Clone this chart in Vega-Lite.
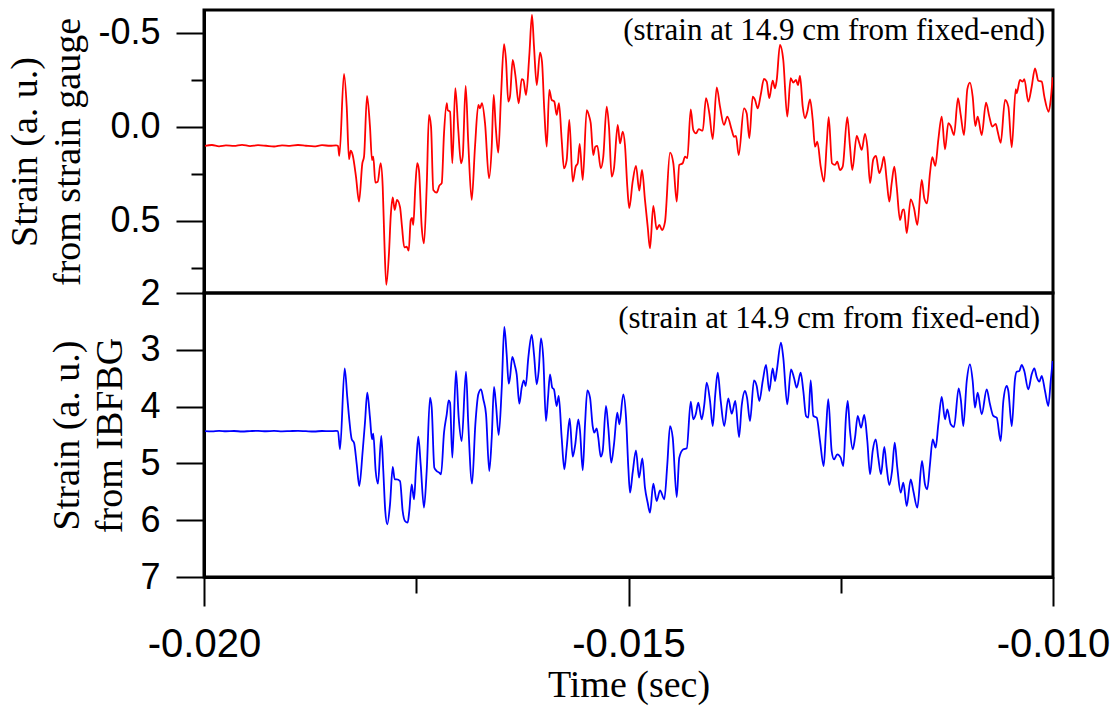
{
"$schema":"https://vega.github.io/schema/vega-lite/v6.json",
"background":"white",
"padding":{"left":5,"top":8,"right":0,"bottom":0},
"spacing":0,
"bounds":"flush",
"datasets":{
"gauge":[
{"t":-0.019988,"v":0.100},{"t":-0.019906,"v":0.096},{"t":-0.019823,"v":0.103},{"t":-0.019741,"v":0.098},{"t":-0.019647,"v":0.101},{"t":-0.019552,"v":0.095},{"t":-0.019458,"v":0.102},{"t":-0.019364,"v":0.097},{"t":-0.019270,"v":0.100},{"t":-0.019175,"v":0.104},{"t":-0.019081,"v":0.098},{"t":-0.018987,"v":0.101},{"t":-0.018893,"v":0.096},{"t":-0.018799,"v":0.100},{"t":-0.018704,"v":0.103},{"t":-0.018610,"v":0.097},{"t":-0.018516,"v":0.100},{"t":-0.018445,"v":0.098},{"t":-0.018422,"v":0.100},
{"t":-0.018406,"v":0.154},{"t":-0.018351,"v":-0.282},{"t":-0.018319,"v":-0.108},{"t":-0.018292,"v":0.172},{"t":-0.018272,"v":0.126},{"t":-0.018249,"v":0.149},{"t":-0.018210,"v":0.264},{"t":-0.018174,"v":0.397},{"t":-0.018135,"v":0.193},{"t":-0.018115,"v":0.158},{"t":-0.018080,"v":-0.165},{"t":-0.018045,"v":-0.002},{"t":-0.018021,"v":0.176},{"t":-0.018006,"v":0.158},{"t":-0.017982,"v":0.296},{"t":-0.017954,"v":0.291},{"t":-0.017919,"v":0.193},{"t":-0.017895,"v":0.318},{"t":-0.017876,"v":0.601},{"t":-0.017853,"v":0.840},{"t":-0.017821,"v":0.670},{"t":-0.017801,"v":0.477},{"t":-0.017777,"v":0.374},{"t":-0.017754,"v":0.441},{"t":-0.017727,"v":0.388},{"t":-0.017691,"v":0.426},{"t":-0.017668,"v":0.530},{"t":-0.017641,"v":0.640},{"t":-0.017612,"v":0.637},{"t":-0.017589,"v":0.658},{"t":-0.017565,"v":0.495},{"t":-0.017550,"v":0.484},{"t":-0.017535,"v":0.521},{"t":-0.017511,"v":0.318},{"t":-0.017488,"v":0.193},{"t":-0.017468,"v":0.229},{"t":-0.017436,"v":0.530},{"t":-0.017409,"v":0.619},{"t":-0.017377,"v":0.318},{"t":-0.017350,"v":-0.064},{"t":-0.017326,"v":-0.002},{"t":-0.017299,"v":0.335},{"t":-0.017259,"v":0.349},{"t":-0.017228,"v":0.312},{"t":-0.017200,"v":0.299},{"t":-0.017173,"v":0.034},{"t":-0.017141,"v":-0.126},{"t":-0.017130,"v":-0.090},{"t":-0.017102,"v":-0.081},{"t":-0.017075,"v":0.193},{"t":-0.017040,"v":-0.206},{"t":-0.017005,"v":0.016},{"t":-0.016973,"v":0.193},{"t":-0.016953,"v":0.158},{"t":-0.016918,"v":-0.218},{"t":-0.016887,"v":0.087},{"t":-0.016847,"v":0.388},{"t":-0.016808,"v":0.105},{"t":-0.016769,"v":-0.117},{"t":-0.016749,"v":-0.099},{"t":-0.016726,"v":-0.126},{"t":-0.016690,"v":-0.020},{"t":-0.016643,"v":0.273},{"t":-0.016611,"v":0.105},{"t":-0.016588,"v":-0.170},{"t":-0.016564,"v":-0.002},{"t":-0.016534,"v":0.137},{"t":-0.016502,"v":-0.161},{"t":-0.016466,"v":-0.440},{"t":-0.016443,"v":-0.356},{"t":-0.016416,"v":-0.135},{"t":-0.016396,"v":-0.161},{"t":-0.016364,"v":-0.356},{"t":-0.016333,"v":-0.277},{"t":-0.016293,"v":-0.126},{"t":-0.016258,"v":-0.254},{"t":-0.016239,"v":-0.250},{"t":-0.016207,"v":-0.170},{"t":-0.016168,"v":-0.383},{"t":-0.016137,"v":-0.596},{"t":-0.016113,"v":-0.427},{"t":-0.016081,"v":-0.223},{"t":-0.016042,"v":-0.395},{"t":-0.016019,"v":-0.347},{"t":-0.015992,"v":-0.090},{"t":-0.015963,"v":0.105},{"t":-0.015933,"v":-0.197},{"t":-0.015905,"v":-0.144},{"t":-0.015874,"v":-0.135},{"t":-0.015846,"v":-0.064},{"t":-0.015819,"v":-0.126},{"t":-0.015787,"v":0.069},{"t":-0.015760,"v":0.220},{"t":-0.015728,"v":0.176},{"t":-0.015697,"v":-0.037},{"t":-0.015657,"v":0.291},{"t":-0.015622,"v":0.211},{"t":-0.015598,"v":0.193},{"t":-0.015575,"v":0.090},{"t":-0.015539,"v":0.282},{"t":-0.015492,"v":-0.090},{"t":-0.015462,"v":-0.055},{"t":-0.015445,"v":-0.020},{"t":-0.015415,"v":0.149},{"t":-0.015391,"v":0.105},{"t":-0.015367,"v":0.101},{"t":-0.015327,"v":0.220},{"t":-0.015297,"v":0.158},{"t":-0.015257,"v":-0.108},{"t":-0.015230,"v":-0.002},{"t":-0.015198,"v":0.264},{"t":-0.015171,"v":0.220},{"t":-0.015127,"v":-0.011},{"t":-0.015100,"v":0.087},{"t":-0.015068,"v":0.025},{"t":-0.015041,"v":0.100},{"t":-0.015014,"v":0.318},{"t":-0.014991,"v":0.432},{"t":-0.014951,"v":0.291},{"t":-0.014912,"v":0.207},{"t":-0.014873,"v":0.339},{"t":-0.014841,"v":0.229},{"t":-0.014806,"v":0.388},{"t":-0.014774,"v":0.530},{"t":-0.014747,"v":0.645},{"t":-0.014708,"v":0.420},{"t":-0.014668,"v":0.544},{"t":-0.014637,"v":0.521},{"t":-0.014605,"v":0.548},{"t":-0.014570,"v":0.504},{"t":-0.014511,"v":0.137},{"t":-0.014472,"v":0.193},{"t":-0.014432,"v":0.397},{"t":-0.014402,"v":0.202},{"t":-0.014362,"v":0.193},{"t":-0.014334,"v":0.158},{"t":-0.014307,"v":0.166},{"t":-0.014267,"v":-0.094},{"t":-0.014237,"v":0.016},{"t":-0.014205,"v":0.034},{"t":-0.014173,"v":0.012},{"t":-0.014126,"v":0.020},{"t":-0.014087,"v":-0.153},{"t":-0.014048,"v":-0.073},{"t":-0.014008,"v":0.065},{"t":-0.013961,"v":-0.211},{"t":-0.013922,"v":-0.108},{"t":-0.013875,"v":-0.011},{"t":-0.013836,"v":-0.055},{"t":-0.013784,"v":0.016},{"t":-0.013757,"v":0.052},{"t":-0.013734,"v":0.048},{"t":-0.013702,"v":0.149},{"t":-0.013640,"v":-0.099},{"t":-0.013608,"v":-0.073},{"t":-0.013577,"v":0.060},{"t":-0.013537,"v":-0.161},{"t":-0.013510,"v":-0.144},{"t":-0.013478,"v":-0.099},{"t":-0.013443,"v":-0.170},{"t":-0.013404,"v":-0.255},{"t":-0.013372,"v":-0.241},{"t":-0.013342,"v":-0.153},{"t":-0.013302,"v":-0.246},{"t":-0.013274,"v":-0.206},{"t":-0.013254,"v":-0.250},{"t":-0.013216,"v":-0.436},{"t":-0.013177,"v":-0.356},{"t":-0.013130,"v":-0.055},{"t":-0.013090,"v":-0.259},{"t":-0.013059,"v":-0.236},{"t":-0.013027,"v":-0.250},{"t":-0.013004,"v":-0.223},{"t":-0.012980,"v":-0.271},{"t":-0.012948,"v":-0.108},{"t":-0.012921,"v":-0.046},{"t":-0.012894,"v":-0.081},{"t":-0.012862,"v":-0.147},{"t":-0.012830,"v":-0.037},{"t":-0.012803,"v":0.105},{"t":-0.012776,"v":0.078},{"t":-0.012736,"v":0.211},{"t":-0.012697,"v":0.291},{"t":-0.012665,"v":0.087},{"t":-0.012642,"v":-0.052},{"t":-0.012603,"v":0.193},{"t":-0.012568,"v":0.202},{"t":-0.012541,"v":0.185},{"t":-0.012509,"v":0.229},{"t":-0.012477,"v":0.211},{"t":-0.012423,"v":-0.052},{"t":-0.012391,"v":0.105},{"t":-0.012364,"v":0.229},{"t":-0.012312,"v":0.048},{"t":-0.012281,"v":0.087},{"t":-0.012253,"v":0.122},{"t":-0.012214,"v":0.037},{"t":-0.012187,"v":0.105},{"t":-0.012155,"v":0.299},{"t":-0.012117,"v":0.172},{"t":-0.012085,"v":0.154},{"t":-0.012046,"v":0.246},{"t":-0.012018,"v":0.211},{"t":-0.011991,"v":0.158},{"t":-0.011959,"v":0.282},{"t":-0.011928,"v":0.397},{"t":-0.011900,"v":0.299},{"t":-0.011869,"v":0.211},{"t":-0.011841,"v":0.318},{"t":-0.011802,"v":0.495},{"t":-0.011770,"v":0.441},{"t":-0.011755,"v":0.438},{"t":-0.011723,"v":0.565},{"t":-0.011676,"v":0.385},{"t":-0.011637,"v":0.432},{"t":-0.011598,"v":0.521},{"t":-0.011546,"v":0.282},{"t":-0.011516,"v":0.379},{"t":-0.011484,"v":0.406},{"t":-0.011449,"v":0.246},{"t":-0.011422,"v":0.161},{"t":-0.011386,"v":0.207},{"t":-0.011351,"v":0.069},{"t":-0.011311,"v":-0.055},{"t":-0.011272,"v":0.119},{"t":-0.011233,"v":-0.020},{"t":-0.011205,"v":-0.005},{"t":-0.011166,"v":0.043},{"t":-0.011119,"v":-0.153},{"t":-0.011087,"v":-0.064},{"t":-0.011048,"v":0.043},{"t":-0.011009,"v":-0.201},{"t":-0.010978,"v":-0.236},{"t":-0.010946,"v":-0.161},{"t":-0.010915,"v":-0.005},{"t":-0.010887,"v":-0.055},{"t":-0.010840,"v":0.043},{"t":-0.010789,"v":-0.129},{"t":-0.010750,"v":-0.055},{"t":-0.010715,"v":-0.002},{"t":-0.010675,"v":-0.016},{"t":-0.010651,"v":0.025},{"t":-0.010616,"v":0.084},{"t":-0.010565,"v":-0.144},{"t":-0.010526,"v":-0.108},{"t":-0.010486,"v":0.108},{"t":-0.010439,"v":-0.201},{"t":-0.010428,"v":-0.179},{"t":-0.010389,"v":-0.250},{"t":-0.010357,"v":-0.241},{"t":-0.010338,"v":-0.254},{"t":-0.010291,"v":-0.135},{"t":-0.010251,"v":-0.214},{"t":-0.010212,"v":-0.312},{"t":-0.010173,"v":-0.246},{"t":-0.010133,"v":-0.241},{"t":-0.010102,"v":-0.161},{"t":-0.010051,"v":-0.081},{"t":-0.010027,"v":-0.144},{"t":-0.010004,"v":-0.264}
],
"fbg":[
{"t":-0.019988,"v":4.432},{"t":-0.019906,"v":4.437},{"t":-0.019823,"v":4.428},{"t":-0.019741,"v":4.434},{"t":-0.019647,"v":4.430},{"t":-0.019552,"v":4.438},{"t":-0.019458,"v":4.431},{"t":-0.019364,"v":4.426},{"t":-0.019270,"v":4.434},{"t":-0.019175,"v":4.429},{"t":-0.019081,"v":4.436},{"t":-0.018987,"v":4.431},{"t":-0.018893,"v":4.427},{"t":-0.018799,"v":4.433},{"t":-0.018704,"v":4.438},{"t":-0.018610,"v":4.430},{"t":-0.018516,"v":4.432},{"t":-0.018445,"v":4.429},{"t":-0.018422,"v":4.431},
{"t":-0.018398,"v":4.752},{"t":-0.018343,"v":3.326},{"t":-0.018312,"v":3.843},{"t":-0.018289,"v":4.224},{"t":-0.018260,"v":4.576},{"t":-0.018233,"v":4.635},{"t":-0.018201,"v":5.016},{"t":-0.018171,"v":5.398},{"t":-0.018131,"v":4.782},{"t":-0.018104,"v":4.283},{"t":-0.018077,"v":3.755},{"t":-0.018045,"v":4.195},{"t":-0.018021,"v":4.576},{"t":-0.018006,"v":4.477},{"t":-0.017978,"v":5.134},{"t":-0.017951,"v":5.357},{"t":-0.017912,"v":4.518},{"t":-0.017888,"v":5.134},{"t":-0.017865,"v":5.838},{"t":-0.017841,"v":6.072},{"t":-0.017809,"v":5.720},{"t":-0.017777,"v":5.063},{"t":-0.017754,"v":5.280},{"t":-0.017730,"v":5.280},{"t":-0.017691,"v":5.310},{"t":-0.017660,"v":5.838},{"t":-0.017633,"v":6.014},{"t":-0.017601,"v":6.044},{"t":-0.017582,"v":5.838},{"t":-0.017554,"v":5.368},{"t":-0.017526,"v":5.632},{"t":-0.017503,"v":5.076},{"t":-0.017476,"v":4.530},{"t":-0.017448,"v":5.016},{"t":-0.017409,"v":5.780},{"t":-0.017377,"v":5.134},{"t":-0.017338,"v":3.843},{"t":-0.017318,"v":4.019},{"t":-0.017287,"v":5.076},{"t":-0.017259,"v":5.134},{"t":-0.017228,"v":5.164},{"t":-0.017208,"v":5.192},{"t":-0.017173,"v":4.459},{"t":-0.017141,"v":4.136},{"t":-0.017118,"v":3.889},{"t":-0.017102,"v":3.931},{"t":-0.017075,"v":4.900},{"t":-0.017032,"v":3.373},{"t":-0.017000,"v":4.195},{"t":-0.016965,"v":4.606},{"t":-0.016914,"v":3.386},{"t":-0.016887,"v":4.312},{"t":-0.016843,"v":5.357},{"t":-0.016804,"v":4.312},{"t":-0.016769,"v":3.784},{"t":-0.016737,"v":3.696},{"t":-0.016710,"v":3.871},{"t":-0.016678,"v":4.136},{"t":-0.016640,"v":5.134},{"t":-0.016611,"v":4.548},{"t":-0.016584,"v":3.655},{"t":-0.016561,"v":3.960},{"t":-0.016529,"v":4.500},{"t":-0.016493,"v":3.667},{"t":-0.016463,"v":2.599},{"t":-0.016435,"v":3.079},{"t":-0.016411,"v":3.597},{"t":-0.016396,"v":3.491},{"t":-0.016369,"v":3.127},{"t":-0.016337,"v":3.285},{"t":-0.016317,"v":3.431},{"t":-0.016286,"v":3.949},{"t":-0.016258,"v":3.667},{"t":-0.016234,"v":3.537},{"t":-0.016211,"v":3.637},{"t":-0.016180,"v":3.139},{"t":-0.016140,"v":2.739},{"t":-0.016113,"v":3.079},{"t":-0.016081,"v":3.607},{"t":-0.016058,"v":3.373},{"t":-0.016031,"v":2.798},{"t":-0.016004,"v":3.139},{"t":-0.015972,"v":4.254},{"t":-0.015948,"v":3.843},{"t":-0.015925,"v":3.431},{"t":-0.015898,"v":3.667},{"t":-0.015878,"v":3.696},{"t":-0.015846,"v":3.989},{"t":-0.015822,"v":3.813},{"t":-0.015787,"v":4.548},{"t":-0.015756,"v":5.104},{"t":-0.015728,"v":4.724},{"t":-0.015693,"v":4.213},{"t":-0.015657,"v":4.882},{"t":-0.015627,"v":4.664},{"t":-0.015591,"v":4.224},{"t":-0.015571,"v":4.430},{"t":-0.015539,"v":5.122},{"t":-0.015512,"v":4.312},{"t":-0.015485,"v":3.713},{"t":-0.015453,"v":3.843},{"t":-0.015422,"v":4.342},{"t":-0.015403,"v":4.459},{"t":-0.015375,"v":4.382},{"t":-0.015356,"v":4.548},{"t":-0.015327,"v":4.882},{"t":-0.015304,"v":4.782},{"t":-0.015265,"v":3.989},{"t":-0.015238,"v":4.371},{"t":-0.015203,"v":4.988},{"t":-0.015171,"v":4.664},{"t":-0.015132,"v":4.107},{"t":-0.015108,"v":4.312},{"t":-0.015061,"v":3.784},{"t":-0.015029,"v":4.195},{"t":-0.015002,"v":5.076},{"t":-0.014982,"v":5.516},{"t":-0.014951,"v":5.164},{"t":-0.014912,"v":4.770},{"t":-0.014876,"v":5.252},{"t":-0.014837,"v":4.912},{"t":-0.014806,"v":5.428},{"t":-0.014774,"v":5.692},{"t":-0.014747,"v":5.868},{"t":-0.014708,"v":5.357},{"t":-0.014668,"v":5.662},{"t":-0.014629,"v":5.474},{"t":-0.014578,"v":5.632},{"t":-0.014543,"v":5.016},{"t":-0.014511,"v":4.342},{"t":-0.014479,"v":4.548},{"t":-0.014432,"v":5.592},{"t":-0.014402,"v":4.900},{"t":-0.014354,"v":4.752},{"t":-0.014314,"v":4.734},{"t":-0.014267,"v":3.913},{"t":-0.014237,"v":4.224},{"t":-0.014208,"v":4.136},{"t":-0.014178,"v":3.931},{"t":-0.014138,"v":4.224},{"t":-0.014107,"v":3.960},{"t":-0.014079,"v":3.579},{"t":-0.014040,"v":3.901},{"t":-0.014008,"v":4.342},{"t":-0.013978,"v":3.784},{"t":-0.013949,"v":3.403},{"t":-0.013914,"v":3.901},{"t":-0.013872,"v":4.342},{"t":-0.013825,"v":3.854},{"t":-0.013784,"v":4.125},{"t":-0.013742,"v":3.901},{"t":-0.013698,"v":4.535},{"t":-0.013667,"v":3.989},{"t":-0.013628,"v":3.725},{"t":-0.013604,"v":3.843},{"t":-0.013569,"v":4.254},{"t":-0.013522,"v":3.537},{"t":-0.013490,"v":3.637},{"t":-0.013459,"v":3.901},{"t":-0.013419,"v":3.549},{"t":-0.013380,"v":3.268},{"t":-0.013342,"v":3.725},{"t":-0.013302,"v":3.326},{"t":-0.013274,"v":3.549},{"t":-0.013254,"v":3.373},{"t":-0.013204,"v":2.875},{"t":-0.013177,"v":3.139},{"t":-0.013130,"v":3.960},{"t":-0.013086,"v":3.343},{"t":-0.013051,"v":3.491},{"t":-0.013019,"v":3.667},{"t":-0.012972,"v":3.403},{"t":-0.012941,"v":3.725},{"t":-0.012909,"v":4.165},{"t":-0.012882,"v":4.195},{"t":-0.012854,"v":3.537},{"t":-0.012823,"v":4.165},{"t":-0.012783,"v":4.195},{"t":-0.012744,"v":4.606},{"t":-0.012701,"v":5.046},{"t":-0.012674,"v":4.430},{"t":-0.012647,"v":3.871},{"t":-0.012607,"v":4.782},{"t":-0.012579,"v":4.928},{"t":-0.012541,"v":4.840},{"t":-0.012501,"v":4.900},{"t":-0.012470,"v":5.046},{"t":-0.012438,"v":4.165},{"t":-0.012418,"v":3.901},{"t":-0.012391,"v":4.430},{"t":-0.012359,"v":4.752},{"t":-0.012332,"v":4.548},{"t":-0.012300,"v":4.165},{"t":-0.012261,"v":4.371},{"t":-0.012223,"v":4.148},{"t":-0.012187,"v":4.606},{"t":-0.012155,"v":5.192},{"t":-0.012124,"v":4.782},{"t":-0.012088,"v":4.576},{"t":-0.012058,"v":4.900},{"t":-0.012026,"v":5.192},{"t":-0.011987,"v":4.711},{"t":-0.011959,"v":5.076},{"t":-0.011928,"v":5.380},{"t":-0.011896,"v":5.134},{"t":-0.011864,"v":4.635},{"t":-0.011834,"v":5.076},{"t":-0.011794,"v":5.516},{"t":-0.011763,"v":5.340},{"t":-0.011723,"v":5.750},{"t":-0.011676,"v":5.280},{"t":-0.011645,"v":5.486},{"t":-0.011598,"v":5.780},{"t":-0.011543,"v":4.958},{"t":-0.011508,"v":5.368},{"t":-0.011481,"v":5.456},{"t":-0.011449,"v":5.016},{"t":-0.011417,"v":4.576},{"t":-0.011382,"v":4.724},{"t":-0.011351,"v":4.312},{"t":-0.011311,"v":3.831},{"t":-0.011272,"v":4.224},{"t":-0.011245,"v":4.048},{"t":-0.011205,"v":4.312},{"t":-0.011166,"v":4.359},{"t":-0.011111,"v":3.678},{"t":-0.011084,"v":3.901},{"t":-0.011057,"v":4.342},{"t":-0.011016,"v":3.549},{"t":-0.010978,"v":3.255},{"t":-0.010946,"v":3.549},{"t":-0.010919,"v":4.019},{"t":-0.010887,"v":3.755},{"t":-0.010840,"v":4.136},{"t":-0.010781,"v":3.696},{"t":-0.010742,"v":3.960},{"t":-0.010703,"v":4.165},{"t":-0.010663,"v":4.195},{"t":-0.010616,"v":4.606},{"t":-0.010585,"v":3.901},{"t":-0.010545,"v":3.637},{"t":-0.010526,"v":3.725},{"t":-0.010486,"v":4.342},{"t":-0.010448,"v":3.520},{"t":-0.010428,"v":3.386},{"t":-0.010397,"v":3.373},{"t":-0.010369,"v":3.268},{"t":-0.010338,"v":3.373},{"t":-0.010291,"v":3.696},{"t":-0.010251,"v":3.431},{"t":-0.010220,"v":3.326},{"t":-0.010192,"v":3.479},{"t":-0.010161,"v":3.562},{"t":-0.010133,"v":3.461},{"t":-0.010094,"v":3.725},{"t":-0.010055,"v":3.989},{"t":-0.010027,"v":3.549},{"t":-0.010004,"v":3.197}
]
},
"vconcat":[
{
"width":849,"height":283,
"layer":[
{"data":{"name":"gauge"},
"mark":{"type":"line","color":"#ff0000","strokeWidth":1.8,"interpolate":"monotone","clip":true},
"encoding":{
"x":{"field":"t","type":"quantitative","scale":{"domain":[-0.02,-0.01],"nice":false,"zero":false},"axis":null},
"y":{"field":"v","type":"quantitative","scale":{"domain":[-0.622,0.883],"reverse":true,"nice":false,"zero":false},
"axis":{"title":["Strain (a. u.)","from strain gauge"],"values":[-0.5,-0.25,0,0.25,0.5,0.75],
"labelExpr":"abs(datum.value*2-round(datum.value*2))<0.001 ? ((datum.value<0?'-':'')+format(abs(datum.value),'.1f')) : ''",
"tickSize":{"condition":{"test":"abs(datum.value*2-round(datum.value*2))<0.001","value":28},"value":13},
"labelPadding":16,"titlePadding":10,"labelFlush":false,"labelOverlap":false}}
}},
{"data":{"values":[{}]},
"mark":{"type":"text","align":"right","baseline":"middle","font":"Liberation Serif","fontSize":31,"color":"black"},
"encoding":{"x":{"datum":-0.010094,"type":"quantitative"},"y":{"datum":-0.511,"type":"quantitative"},"text":{"value":"(strain at 14.9 cm from fixed-end)"}}}
]
},
{
"width":849,"height":284,
"layer":[
{"data":{"name":"fbg"},
"mark":{"type":"line","color":"#0000ff","strokeWidth":1.8,"interpolate":"monotone","clip":true},
"encoding":{
"x":{"field":"t","type":"quantitative","scale":{"domain":[-0.02,-0.01],"nice":false,"zero":false},
"axis":{"title":"Time (sec)","values":[-0.02,-0.0175,-0.015,-0.0125,-0.01],
"labelExpr":"abs(datum.value*200-round(datum.value*200))<0.001 ? ((datum.value<0?'-':'')+format(abs(datum.value),'.3f')) : ''",
"tickSize":{"condition":{"test":"abs(datum.value*200-round(datum.value*200))<0.001","value":29},"value":16},
"labelFontSize":40,"labelPadding":18,"titlePadding":2,"titleFontSize":38,"labelFlush":false,"labelOverlap":false}},
"y":{"field":"v","type":"quantitative","scale":{"domain":[2,7],"reverse":true,"nice":false,"zero":false},
"axis":{"title":["Strain (a. u.)","from IBFBG"],"values":[2,2.5,3,3.5,4,4.5,5,5.5,6,6.5,7],
"labelExpr":"datum.value==round(datum.value) ? format(datum.value,'d') : ''",
"tickSize":{"condition":{"test":"datum.value==round(datum.value)","value":28},"value":13},
"labelPadding":16,"titlePadding":10,"labelFlush":false,"labelOverlap":false}}
}},
{"data":{"values":[{}]},
"mark":{"type":"text","align":"right","baseline":"middle","font":"Liberation Serif","fontSize":31,"color":"black"},
"encoding":{"x":{"datum":-0.010153,"type":"quantitative"},"y":{"datum":2.46,"type":"quantitative"},"text":{"value":"(strain at 14.9 cm from fixed-end)"}}}
]
}
],
"config":{
"view":{"stroke":"black","strokeWidth":3},
"axis":{"domainColor":"black","domainWidth":3,"tickColor":"black","tickWidth":2,"grid":false,
"labelFont":"Liberation Sans","labelFontSize":36,"labelColor":"black",
"titleFont":"Liberation Serif","titleFontSize":38,"titleFontWeight":"normal","titleColor":"black","titleLineHeight":43}
}
}
